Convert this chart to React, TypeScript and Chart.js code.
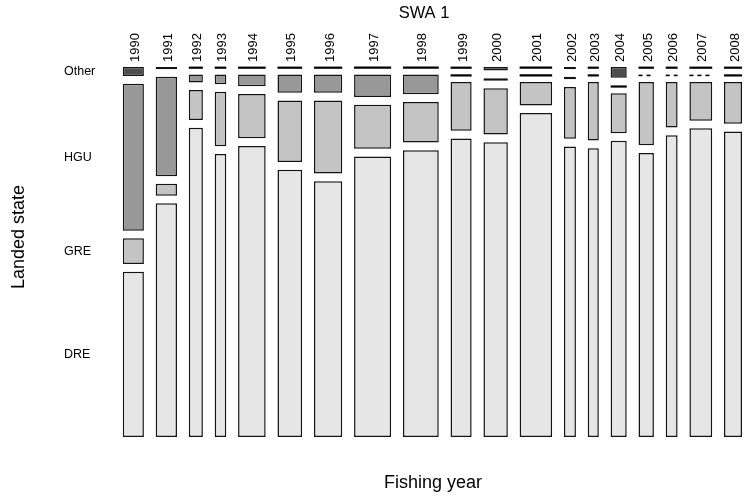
import React, { useEffect, useRef } from 'react';
import { Chart, registerables } from 'chart.js';

Chart.register(...registerables);

// ---- data ----
const years = ['1990', '1991', '1992', '1993', '1994', '1995', '1996', '1997', '1998', '1999',
  '2000', '2001', '2002', '2003', '2004', '2005', '2006', '2007', '2008'];
// relative total landings per fishing year (column widths)
const totalCatch = [212, 213, 141, 116, 276, 247, 283, 371, 358, 211, 244, 325, 120, 111, 161, 154, 119, 228, 180];
// percentage of each year's landings by landed state
const otherPct = [2.7, 0.7, 0, 0, 0, 0, 0, 0, 0, 0, 1.1, 0, 0.7, 0, 3.2, 0, 0, 0, 0];
const hguPct = [42.3, 28.6, 2.3, 2.8, 3.4, 5.3, 5.3, 6.5, 5.7, 0, 0.7, 0, 0.7, 0, 0, 0, 0, 0, 0];
const grePct = [7.4, 3.4, 8.6, 15.7, 12.8, 17.7, 21.0, 12.7, 11.7, 14.0, 13.3, 6.7, 14.9, 16.8, 11.5, 18.2, 13.1, 11.1, 12.0];
const drePct = [47.6, 67.3, 89.1, 81.5, 83.8, 77.0, 73.7, 80.8, 82.6, 86.0, 84.9, 93.3, 83.7, 83.2, 85.3, 81.8, 86.9, 88.9, 88.0];
// years whose empty HGU cell is drawn dashed
const hguZeroDashedYears = ['2005', '2006', '2007'];
const stateLabels = ['Other', 'HGU', 'GRE', 'DRE'];

const titleText = 'SWA 1';
const xTitle = 'Fishing year';
const yTitle = 'Landed state';

// ---- style / layout ----
const X_GAP = 118;
const Y_GAP = 2.22;
const FONT = '"Liberation Sans", Arial, Helvetica, sans-serif';
const levelColors: Record<string, string> = {
  Other: '#4D4D4D',
  HGU: '#989898',
  GRE: '#C4C4C4',
  DRE: '#E6E6E6',
};

export default function App() {
  const ref = useRef<HTMLCanvasElement>(null);

  useEffect(() => {
    const canvas = ref.current!;
    const n = years.length;
    const lefts: number[] = [];
    let acc = 0;
    totalCatch.forEach((w, i) => {
      lefts.push(acc);
      acc += w + (i < n - 1 ? X_GAP : 0);
    });
    const xMax = acc;
    const yMax = 100 + 3 * Y_GAP;
    const levelPct: Record<string, number[]> = { Other: otherPct, HGU: hguPct, GRE: grePct, DRE: drePct };
    const stackOrder = ['DRE', 'GRE', 'HGU', 'Other'];

    const segBounds = (i: number) => {
      let y = 0;
      const out: Record<string, [number, number]> = {};
      stackOrder.forEach((lv) => {
        const v = levelPct[lv][i];
        out[lv] = [y, y + v];
        y += v + Y_GAP;
      });
      return out;
    };

    const datasets = stackOrder.map((lv) => ({
      label: lv,
      data: years
        .map((yr, i) => ({ x: lefts[i] + totalCatch[i] / 2, y: segBounds(i)[lv], yi: i, pct: levelPct[lv][i] }))
        .filter((d) => d.pct > 0),
      backgroundColor: levelColors[lv],
      borderColor: '#141414',
      borderWidth: 1.5,
      borderSkipped: false as const,
      grouped: false,
      inflateAmount: 0,
    }));

    const mosaicPlugin = {
      id: 'mosaic',
      afterDatasetsUpdate(chart: any) {
        const xs = chart.scales.x;
        chart.data.datasets.forEach((ds: any, di: number) => {
          const meta = chart.getDatasetMeta(di);
          meta.data.forEach((el: any, j: number) => {
            const d = ds.data[j];
            const l = xs.getPixelForValue(lefts[d.yi]);
            const r = xs.getPixelForValue(lefts[d.yi] + totalCatch[d.yi]);
            el.x = (l + r) / 2;
            el.width = r - l;
          });
        });
      },
      afterDatasetsDraw(chart: any) {
        const xs = chart.scales.x;
        const ys = chart.scales.y;
        const ctx: CanvasRenderingContext2D = chart.ctx;
        ctx.save();
        ctx.strokeStyle = '#000';
        years.forEach((yr, i) => {
          const b = segBounds(i);
          const l = xs.getPixelForValue(lefts[i]);
          const r = xs.getPixelForValue(lefts[i] + totalCatch[i]);
          stackOrder.forEach((lv) => {
            if (levelPct[lv][i] !== 0) return;
            const y = ys.getPixelForValue(b[lv][0]);
            const dashed = lv === 'HGU' && hguZeroDashedYears.includes(yr);
            ctx.beginPath();
            ctx.lineWidth = dashed ? 1.6 : 2.2;
            ctx.setLineDash(dashed ? [4, 4] : []);
            ctx.moveTo(l, y + 1);
            ctx.lineTo(r, y + 1);
            ctx.stroke();
          });
        });
        ctx.restore();
      },
      afterDraw(chart: any) {
        const xs = chart.scales.x;
        const ys = chart.scales.y;
        const ctx: CanvasRenderingContext2D = chart.ctx;
        ctx.save();
        ctx.fillStyle = '#000';
        // title
        ctx.font = `16.5px ${FONT}`;
        ctx.textAlign = 'center';
        ctx.textBaseline = 'middle';
        ctx.fillText(titleText, 424, 13);
        // axis titles
        ctx.font = `18px ${FONT}`;
        ctx.fillText(xTitle, 433, 483);
        ctx.save();
        ctx.translate(19, 237);
        ctx.rotate(-Math.PI / 2);
        ctx.fillText(yTitle, 0, 0);
        ctx.restore();
        // year labels
        ctx.font = `13px ${FONT}`;
        years.forEach((yr, i) => {
          const cx = xs.getPixelForValue(lefts[i] + totalCatch[i] / 2);
          ctx.save();
          ctx.translate(cx + 2, 62);
          ctx.rotate(-Math.PI / 2);
          ctx.textAlign = 'left';
          ctx.textBaseline = 'middle';
          ctx.fillText(yr, 0, 0);
          ctx.restore();
        });
        // state labels at first column's cells
        ctx.font = `12.5px ${FONT}`;
        const b0 = segBounds(0);
        ctx.textAlign = 'left';
        ctx.textBaseline = 'middle';
        stateLabels.forEach((lv) => {
          const yc = ys.getPixelForValue((b0[lv][0] + b0[lv][1]) / 2);
          ctx.fillText(lv, 64, yc);
        });
        ctx.restore();
      },
    };

    const chart = new Chart(canvas, {
      type: 'bar',
      data: { datasets: datasets as any },
      options: {
        responsive: false,
        maintainAspectRatio: false,
        animation: false,
        devicePixelRatio: 1,
        layout: { padding: { left: 122.7, right: 2, top: 66.7, bottom: 65 } },
        plugins: { legend: { display: false }, tooltip: { enabled: false }, title: { display: false } },
        scales: {
          x: { type: 'linear', min: 0, max: xMax, display: false, offset: false },
          y: { type: 'linear', min: 0, max: yMax, display: false },
        },
      },
      plugins: [mosaicPlugin],
    });
    return () => chart.destroy();
  }, []);

  return (
    <div style={{ position: 'absolute', left: 0, top: 0, width: 744, height: 502, background: '#fff' }}>
      <canvas ref={ref} width={744} height={502} style={{ display: 'block', width: 744, height: 502 }} />
    </div>
  );
}
